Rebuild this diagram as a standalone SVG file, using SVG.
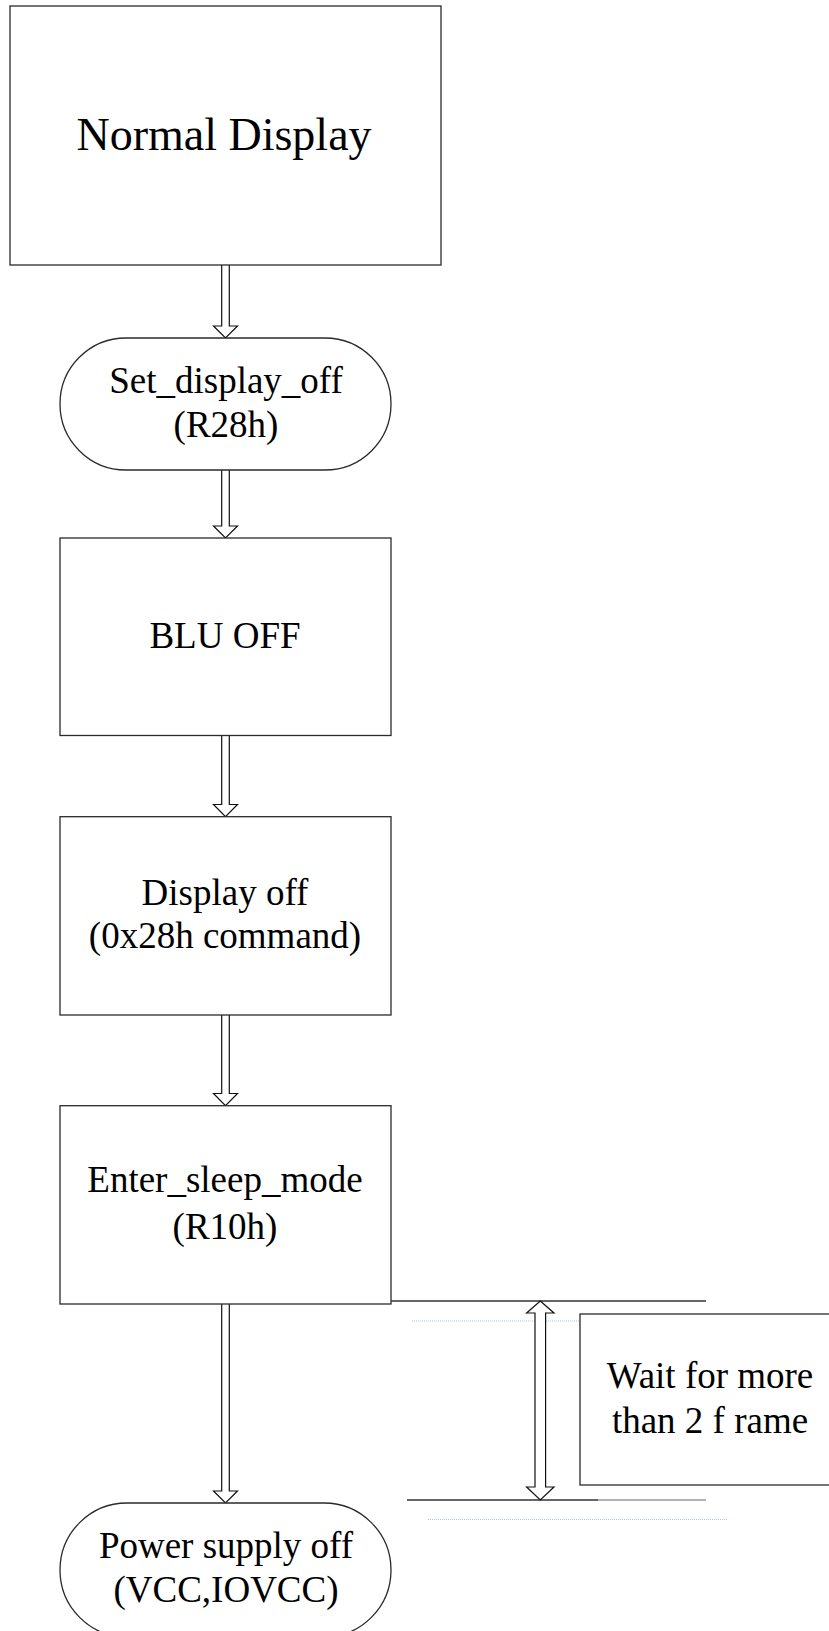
<svg xmlns="http://www.w3.org/2000/svg" width="829" height="1631" viewBox="0 0 829 1631">
  <style>
    .box { fill: #ffffff; stroke: #2a2a2a; stroke-width: 1.3; }
    .arrow { fill: #ffffff; stroke: #111111; stroke-width: 1.2; stroke-linejoin: miter; }
    .lbl { font-family: "Liberation Serif", "Times New Roman", serif; font-size: 37px; fill: #000000; text-anchor: middle; }
    .big { font-size: 46px; }
    .rule { stroke: #333333; stroke-width: 1.3; fill: none; }
    .rule-light { stroke: #9a9a9a; stroke-width: 1.3; fill: none; }
    .dots { stroke: #a9c6e4; stroke-width: 1; stroke-dasharray: 1 1; fill: none; }
  </style>
  <rect width="829" height="1631" fill="#ffffff"/>

  <!-- flow connectors: hollow block arrows -->
  <g id="connectors">
    <path class="arrow" d="M221.7,265 L221.7,326 L213.5,326 L225.5,338 L237.5,326 L229.3,326 L229.3,265"/>
    <path class="arrow" d="M221.7,470 L221.7,526 L213.5,526 L225.5,538 L237.5,526 L229.3,526 L229.3,470"/>
    <path class="arrow" d="M221.7,735.5 L221.7,804.5 L213.5,804.5 L225.5,816.7 L237.5,804.5 L229.3,804.5 L229.3,735.5"/>
    <path class="arrow" d="M221.7,1015 L221.7,1093.5 L213.5,1093.5 L225.5,1105.7 L237.5,1093.5 L229.3,1093.5 L229.3,1015"/>
    <path class="arrow" d="M221.7,1304 L221.7,1491 L213.5,1491 L225.5,1503 L237.5,1491 L229.3,1491 L229.3,1304"/>
  </g>

  <g id="node-normal-display">
    <rect class="box" x="10" y="6" width="431" height="259"/>
    <text class="lbl big" x="224" y="150">Normal Display</text>
  </g>

  <g id="node-set-display-off">
    <rect class="box" x="60" y="338" width="331" height="132" rx="66" ry="66"/>
    <text class="lbl" x="226" y="393">Set_display_off</text>
    <text class="lbl" x="226" y="437">(R28h)</text>
  </g>

  <g id="node-blu-off">
    <rect class="box" x="60" y="538" width="331" height="197.5"/>
    <text class="lbl" x="225" y="648">BLU OFF</text>
  </g>

  <g id="node-display-off">
    <rect class="box" x="60" y="816.7" width="331" height="198.3"/>
    <text class="lbl" x="225" y="905">Display off</text>
    <text class="lbl" x="225" y="948">(0x28h command)</text>
  </g>

  <g id="node-enter-sleep">
    <rect class="box" x="60" y="1105.7" width="331" height="198.3"/>
    <text class="lbl" x="225" y="1192">Enter_sleep_mode</text>
    <text class="lbl" x="225" y="1239">(R10h)</text>
  </g>

  <g id="node-power-off">
    <rect class="box" x="60" y="1503" width="331" height="134" rx="67" ry="67"/>
    <text class="lbl" x="226" y="1558">Power supply off</text>
    <text class="lbl" x="226" y="1602">(VCC,IOVCC)</text>
  </g>

  <!-- timing annotation: wait interval between sleep-in and power-off -->
  <g id="timing">
    <line class="dots" x1="412" y1="1321" x2="580" y2="1321"/>
    <line class="dots" x1="428" y1="1519.5" x2="727" y2="1519.5"/>
    <line class="rule" x1="391" y1="1301" x2="706" y2="1301"/>
    <line class="rule" x1="407" y1="1500" x2="598" y2="1500"/>
    <line class="rule-light" x1="598" y1="1500" x2="706" y2="1500"/>
    <path class="arrow" d="M540.3,1301 L554,1313 L545.6,1313 L545.6,1487 L554,1487 L540.3,1500 L526.6,1487 L535,1487 L535,1313 L526.6,1313 Z"/>
  </g>

  <g id="node-wait">
    <rect class="box" x="580" y="1314" width="270" height="171"/>
    <text class="lbl" x="710" y="1388">Wait for more</text>
    <text class="lbl" x="710" y="1433">than 2 f rame</text>
  </g>
</svg>
